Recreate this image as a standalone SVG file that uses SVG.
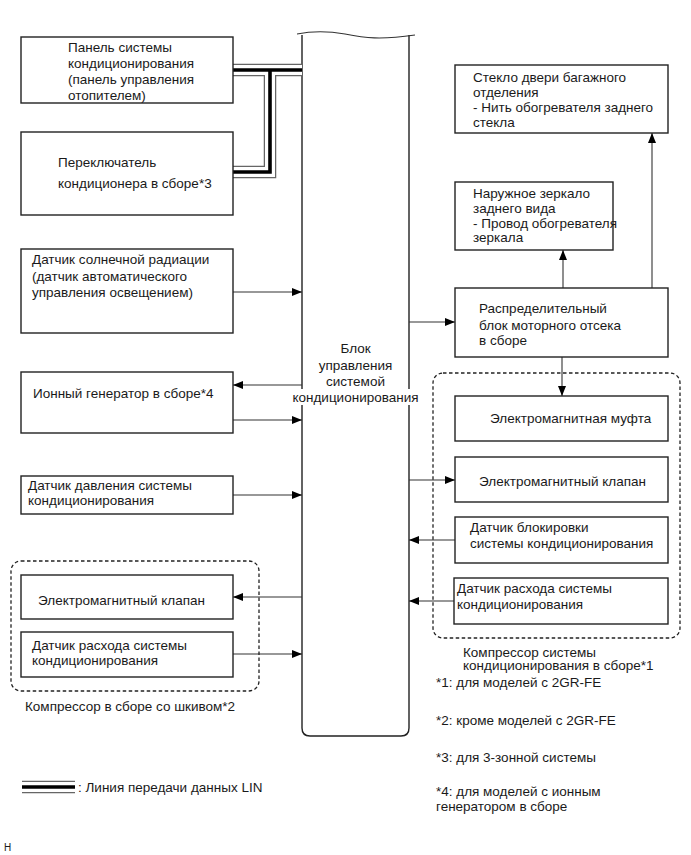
<svg xmlns="http://www.w3.org/2000/svg" width="691" height="855" viewBox="0 0 691 855">
<style>
text{font-family:"Liberation Sans",Arial,sans-serif;font-size:13.5px;fill:#1a1a1a}
.box{fill:#fff;stroke:#222;stroke-width:1.4}
.grp{fill:none;stroke:#222;stroke-width:1.3;stroke-dasharray:3.5,2.5}
.ln{fill:none;stroke:#333;stroke-width:1.1}
.lin1{fill:none;stroke:#666;stroke-width:12.5;stroke-linejoin:miter}
.lin2{fill:none;stroke:#fff;stroke-width:10;stroke-linejoin:miter}
.lin3{fill:none;stroke:#000;stroke-width:3.6;stroke-linejoin:miter}
</style>
<defs>
<marker id="ah" viewBox="0 0 10 8" refX="10" refY="4" markerWidth="10" markerHeight="8" markerUnits="userSpaceOnUse" orient="auto">
<path d="M0,0 L10,4 L0,8 Z" fill="#000"/>
</marker>
</defs>
<rect width="691" height="855" fill="#fff"/>

<g id="block">
<path class="box" d="M302,35 V728 Q302,736 310,736 H401 Q409,736 409,728 V35" fill="#fff"/>
<path d="M297,34 C312,31 328,31 345,34 C365,38 380,40 415,35" fill="none" stroke="#333" stroke-width="1.1"/>
<rect x="294" y="389" width="124" height="16" fill="#fff"/>
<text x="355.5" y="353" text-anchor="middle">Блок</text>
<text x="355.5" y="370" text-anchor="middle">управления</text>
<text x="355.5" y="386" text-anchor="middle">системой</text>
<text x="355.5" y="402" text-anchor="middle">кондиционирования</text>
</g>

<g id="connectors">
<path class="lin1" d="M233,70 H302 M270,70 V172 H233"/>
<path class="lin2" d="M233,70 H302 M270,70 V172 H233"/>
<path class="lin3" d="M233,70 H302 M270,70 V172 H233"/>
<path class="ln" d="M233,292 H302" marker-end="url(#ah)"/>
<path class="ln" d="M302,385 H233" marker-end="url(#ah)"/>
<path class="ln" d="M233,420 H302" marker-end="url(#ah)"/>
<path class="ln" d="M233,495 H302" marker-end="url(#ah)"/>
<path class="ln" d="M302,597 H233" marker-end="url(#ah)"/>
<path class="ln" d="M233,654 H302" marker-end="url(#ah)"/>
<path class="ln" d="M409,322 H455" marker-end="url(#ah)"/>
<path class="ln" d="M563,288 V250" marker-end="url(#ah)"/>
<path class="ln" d="M652,288 V133" marker-end="url(#ah)"/>
<path class="ln" d="M562,357 V396" marker-end="url(#ah)"/>
<path class="ln" d="M409,480 H455" marker-end="url(#ah)"/>
<path class="ln" d="M455,540 H409" marker-end="url(#ah)"/>
<path class="ln" d="M454,601 H409" marker-end="url(#ah)"/>
</g>

<g id="panel">
<rect class="box" x="21" y="37" width="212" height="66"/>
<text x="68" y="51.5">Панель системы</text>
<text x="68" y="67.5">кондиционирования</text>
<text x="68" y="83.5">(панель управления</text>
<text x="68" y="99.5">отопителем)</text>
</g>
<g id="switch">
<rect class="box" x="21" y="132" width="212" height="83"/>
<text x="58" y="166.5">Переключатель</text>
<text x="58" y="188">кондиционера в сборе*3</text>
</g>
<g id="sun">
<rect class="box" x="21" y="249" width="212" height="84"/>
<text x="32" y="264">Датчик солнечной радиации</text>
<text x="32" y="280.5">(датчик автоматического</text>
<text x="32" y="297">управления освещением)</text>
</g>
<g id="ion">
<rect class="box" x="21" y="372" width="212" height="61"/>
<text x="33" y="397.5">Ионный генератор в сборе*4</text>
</g>
<g id="pressure">
<rect class="box" x="21" y="476" width="212" height="38"/>
<text x="28" y="490">Датчик давления системы</text>
<text x="28" y="505">кондиционирования</text>
</g>

<g id="pulley-compressor">
<rect class="grp" x="11" y="561" width="248" height="130" rx="10"/>
<text x="25" y="711">Компрессор в сборе со шкивом*2</text>
</g>
<g id="left-valve">
<rect class="box" x="21" y="575" width="212" height="44"/>
<text x="38" y="605">Электромагнитный клапан</text>
</g>
<g id="left-flow">
<rect class="box" x="21" y="632" width="212" height="45"/>
<text x="32" y="650">Датчик расхода системы</text>
<text x="32" y="665">кондиционирования</text>
</g>

<g id="glass">
<rect class="box" x="455" y="65" width="213" height="68"/>
<text x="473" y="82">Стекло двери багажного</text>
<text x="473" y="97">отделения</text>
<text x="473" y="112">- Нить обогревателя заднего</text>
<text x="473" y="127">стекла</text>
</g>
<g id="mirror">
<rect class="box" x="455" y="182" width="158" height="68"/>
<text x="473" y="198">Наружное зеркало</text>
<text x="473" y="213">заднего вида</text>
<text x="473" y="227.5">- Провод обогревателя</text>
<text x="473" y="242">зеркала</text>
</g>
<g id="distrib">
<rect class="box" x="455" y="288" width="213" height="69"/>
<text x="479" y="313">Распределительный</text>
<text x="479" y="330">блок моторного отсека</text>
<text x="479" y="345">в сборе</text>
</g>

<g id="ac-compressor">
<rect class="grp" x="433" y="373" width="247" height="265" rx="10"/>
<text x="463" y="656.5">Компрессор системы</text>
<text x="463" y="670">кондиционирования в сборе*1</text>
</g>
<g id="clutch">
<rect class="box" x="455" y="396" width="213" height="45"/>
<text x="490" y="423">Электромагнитная муфта</text>
</g>
<g id="right-valve">
<rect class="box" x="455" y="457" width="213" height="45"/>
<text x="479" y="486">Электромагнитный клапан</text>
</g>
<g id="lock-sensor">
<rect class="box" x="455" y="517" width="213" height="46"/>
<text x="470" y="532">Датчик блокировки</text>
<text x="470" y="547.5">системы кондиционирования</text>
</g>
<g id="right-flow">
<rect class="box" x="454" y="578" width="214" height="46"/>
<text x="457" y="593">Датчик расхода системы</text>
<text x="457" y="609">кондиционирования</text>
</g>

<g id="notes">
<text x="436" y="687">*1: для моделей с 2GR-FE</text>
<text x="436" y="725">*2: кроме моделей с 2GR-FE</text>
<text x="436" y="762">*3: для 3-зонной системы</text>
<text x="436" y="796">*4: для моделей с ионным</text>
<text x="436" y="811">генератором в сборе</text>
</g>

<g id="legend">
<path class="lin1" d="M22,787 H75"/>
<path class="lin2" d="M22,787 H75"/>
<path class="lin3" d="M22,787 H75"/>
<text x="78" y="792">: Линия передачи данных LIN</text>
<text x="4" y="851" style="font-size:10px">H</text>
</g>
</svg>
